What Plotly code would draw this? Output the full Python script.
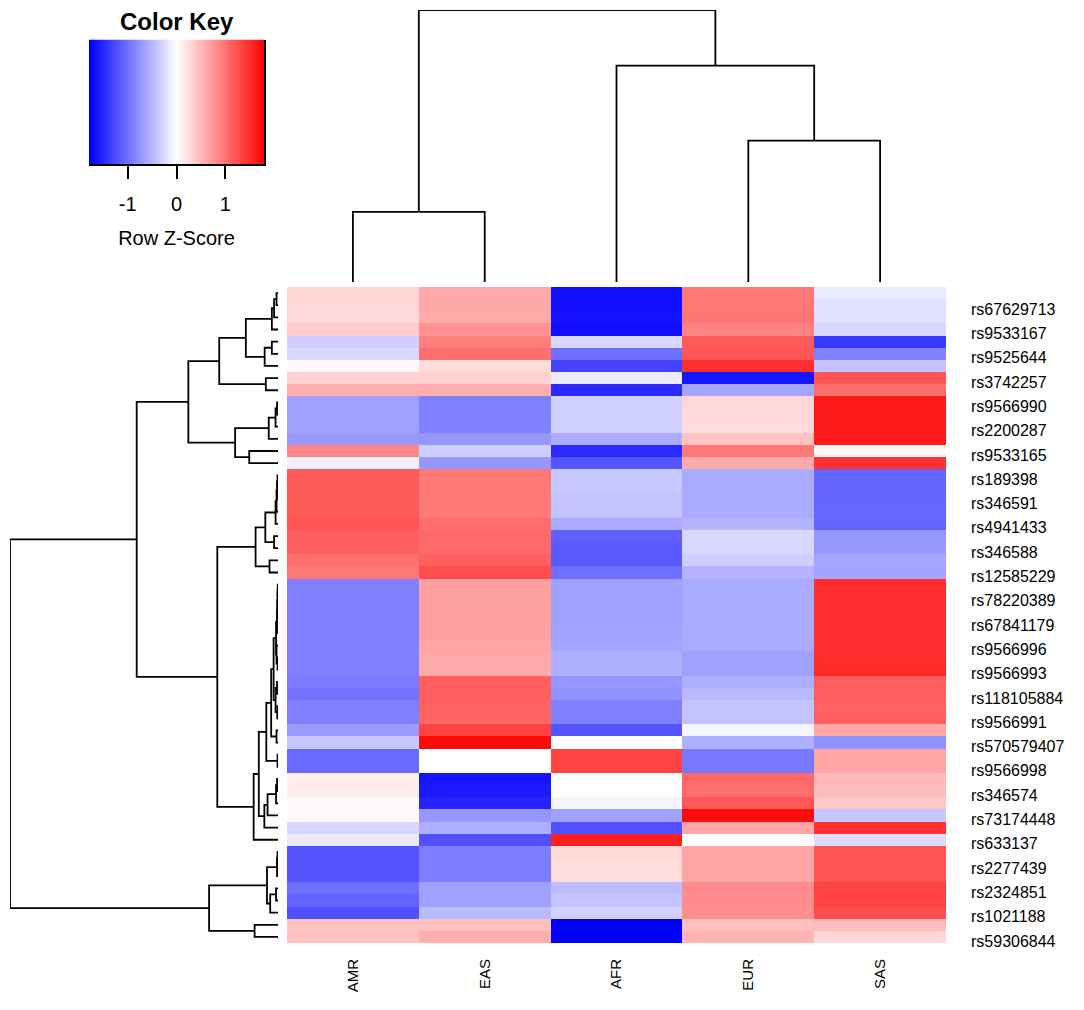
import plotly.graph_objects as go

# column order as shown (already ordered by the column dendrogram)
populations = ["AMR", "EAS", "AFR", "EUR", "SAS"]

# every other row carries a label (rows 1, 3, 5, ... from the top)
row_labels = [
    "rs67629713", "rs9533167", "rs9525644", "rs3742257", "rs9566990",
    "rs2200287", "rs9533165", "rs189398", "rs346591", "rs4941433",
    "rs346588", "rs12585229", "rs78220389", "rs67841179", "rs9566996",
    "rs9566993", "rs118105884", "rs9566991", "rs570579407", "rs9566998",
    "rs346574", "rs73174448", "rs633137", "rs2277439", "rs2324851",
    "rs1021188", "rs59306844",
]

# row z-scores, top row first, columns in population order
zscores = [
    [0.28, 0.60, -1.68, 0.95, -0.14],
    [0.28, 0.62, -1.68, 0.95, -0.21],
    [0.27, 0.60, -1.66, 0.97, -0.21],
    [0.35, 0.77, -1.68, 0.88, -0.28],
    [-0.35, 0.90, -0.28, 1.15, -1.40],
    [-0.28, 1.02, -1.02, 1.19, -0.88],
    [0.04, 0.25, -1.33, 1.47, -0.42],
    [0.32, 0.32, -0.14, -1.65, 1.19],
    [0.56, 0.56, -1.51, -0.63, 1.02],
    [-0.67, -0.89, -0.32, 0.28, 1.61],
    [-0.67, -0.89, -0.32, 0.27, 1.61],
    [-0.67, -0.88, -0.32, 0.25, 1.61],
    [-0.72, -0.74, -0.58, 0.42, 1.61],
    [0.85, -0.35, -1.51, 0.95, 0.07],
    [-0.11, -0.74, -1.19, 0.60, 1.44],
    [1.16, 0.95, -0.39, -0.60, -1.09],
    [1.16, 0.95, -0.39, -0.60, -1.09],
    [1.16, 0.95, -0.42, -0.60, -1.09],
    [1.16, 0.93, -0.42, -0.60, -1.07],
    [1.20, 1.02, -0.60, -0.53, -1.09],
    [1.12, 1.05, -1.12, -0.28, -0.74],
    [1.12, 1.05, -1.16, -0.28, -0.74],
    [1.02, 1.12, -1.16, -0.35, -0.63],
    [0.95, 1.25, -1.02, -0.53, -0.65],
    [-0.89, 0.67, -0.67, -0.60, 1.47],
    [-0.89, 0.67, -0.67, -0.60, 1.47],
    [-0.89, 0.67, -0.67, -0.60, 1.47],
    [-0.89, 0.67, -0.67, -0.60, 1.47],
    [-0.89, 0.67, -0.65, -0.60, 1.47],
    [-0.89, 0.63, -0.63, -0.60, 1.47],
    [-0.89, 0.60, -0.56, -0.67, 1.47],
    [-0.89, 0.60, -0.56, -0.67, 1.50],
    [-0.93, 1.12, -0.74, -0.56, 1.12],
    [-0.98, 1.12, -0.77, -0.49, 1.12],
    [-0.89, 1.10, -0.89, -0.42, 1.10],
    [-0.89, 1.09, -0.89, -0.42, 1.11],
    [-0.70, 1.33, -1.19, -0.07, 0.63],
    [-0.39, 1.72, 0.00, -0.56, -0.77],
    [-1.05, 0.00, 1.33, -0.95, 0.63],
    [-1.05, 0.00, 1.33, -0.95, 0.63],
    [0.12, -1.65, 0.00, 1.05, 0.50],
    [0.14, -1.61, 0.00, 1.02, 0.47],
    [0.04, -1.54, -0.07, 1.18, 0.39],
    [0.04, -0.74, -0.67, 1.72, -0.39],
    [-0.28, -0.56, -1.23, 0.63, 1.44],
    [-0.14, -1.23, 1.58, 0.00, -0.25],
    [-1.19, -0.91, 0.28, 0.63, 1.19],
    [-1.19, -0.91, 0.25, 0.63, 1.19],
    [-1.19, -0.91, 0.25, 0.63, 1.19],
    [-1.02, -0.67, -0.46, 0.81, 1.33],
    [-1.09, -0.67, -0.42, 0.81, 1.33],
    [-1.23, -0.49, -0.32, 0.79, 1.25],
    [0.44, 0.44, -1.79, 0.44, 0.47],
    [0.42, 0.57, -1.79, 0.53, 0.27],
]

# dendrogram merges: (node, left, right, height); ints are leaves
col_merges = [
    ("c01", 0, 1, 0.72),
    ("c34", 3, 4, 1.45),
    ("c234", 2, "c34", 2.22),
    ("croot", "c01", "c234", 2.79),
]

row_merges = [
    ("r0_1", 0, 1, 0.015), ("r0_2", "r0_1", 2, 0.04), ("r0_3", "r0_2", 3, 0.063),
    ("r4_5", 4, 5, 0.063), ("r4_6", "r4_5", 6, 0.137),
    ("G", "r0_3", "r4_6", 0.33),
    ("r7_8", 7, 8, 0.125),
    ("E", "G", "r7_8", 0.603),
    ("r9_10", 9, 10, 0.01), ("r9_11", "r9_10", 11, 0.025), ("K", "r9_11", 12, 0.095),
    ("r13_14", 13, 14, 0.295),
    ("F", "K", "r13_14", 0.44),
    ("B", "E", "F", 0.92),
    ("r15_16", 15, 16, 0.005), ("r15_17", "r15_16", 17, 0.01),
    ("r15_18", "r15_17", 18, 0.015), ("r15_19", "r15_18", 19, 0.025),
    ("r20_21", 20, 21, 0.04),
    ("N", "r15_19", "r20_21", 0.13),
    ("r22_23", 22, 23, 0.087),
    ("M", "N", "r22_23", 0.23),
    ("r24_25", 24, 25, 0.003), ("r24_26", "r24_25", 26, 0.005),
    ("r24_27", "r24_26", 27, 0.007), ("r24_28", "r24_27", 28, 0.01),
    ("r30_31", 30, 31, 0.005), ("r29_31", 29, "r30_31", 0.015),
    ("r24_31", "r24_28", "r29_31", 0.02),
    ("r32_33", 32, 33, 0.01), ("r34_35", 34, 35, 0.008),
    ("r32_35", "r32_33", "r34_35", 0.025),
    ("r24_35", "r24_31", "r32_35", 0.045),
    ("r36_37", 36, 37, 0.015),
    ("U", "r24_35", "r36_37", 0.07),
    ("r38_39", 38, 39, 0.005),
    ("T", "U", "r38_39", 0.12),
    ("r40_41", 40, 41, 0.01), ("r40_42", "r40_41", 42, 0.02),
    ("r40_43", "r40_42", 43, 0.107), ("Q", "r40_43", 44, 0.14),
    ("P", "T", "Q", 0.197),
    ("O", "P", 45, 0.25),
    ("C", "M", "O", 0.623),
    ("A", "B", "C", 1.45),
    ("r46_47", 46, 47, 0.005), ("r46_48", "r46_47", 48, 0.01),
    ("r49_50", 49, 50, 0.02), ("r49_51", "r49_50", 51, 0.08),
    ("V", "r46_48", "r49_51", 0.113),
    ("r52_53", 52, 53, 0.24),
    ("D", "V", "r52_53", 0.707),
    ("root", "A", "D", 2.75),
]

# colour key range and tick values
zlim = 1.79
key_ticks = [-1, 0, 1]
key_ticktext = ["-1", "0", "1"]


def dendro_segments(merges):
    pos, hgt = {}, {}
    p_out, h_out = [], []
    for name, a, b, h in merges:
        for k in (a, b):
            if isinstance(k, int):
                pos[k], hgt[k] = k, 0.0
        p_out += [pos[a], pos[a], pos[b], pos[b], None]
        h_out += [hgt[a], h, h, hgt[b], None]
        pos[name] = (pos[a] + pos[b]) / 2
        hgt[name] = h
    return p_out, h_out


W, H = 1084, 1010
OFF = 8  # default body margin of the html page
FONT = "Liberation Sans, Arial, sans-serif"
COLORS = [[0, "rgb(0,0,255)"], [0.5, "rgb(255,255,255)"], [1, "rgb(255,0,0)"]]


def px(x):
    return min(max((x - OFF) / W, 0.0), 1.0)


def py(y):
    return min(max(1 - (y - OFF) / H, 0.0), 1.0)


n_rows = len(zscores)
n_cols = len(populations)
row_h_max = max(m[3] for m in row_merges)
col_h_max = max(m[3] for m in col_merges)

fig = go.Figure()

fig.add_trace(go.Heatmap(
    z=zscores,
    x=list(range(n_cols)),
    y=list(range(n_rows)),
    zmin=-zlim, zmax=zlim,
    colorscale=COLORS, showscale=False,
    hovertemplate="%{z:.2f}<extra></extra>",
))

# row dendrogram (left)
rp, rh = dendro_segments(row_merges)
fig.add_trace(go.Scatter(x=rh, y=rp, xaxis="x2", yaxis="y", mode="lines",
                         line=dict(color="black", width=1.8), hoverinfo="skip",
                         cliponaxis=False))

# column dendrogram (top)
cp, ch = dendro_segments(col_merges)
fig.add_trace(go.Scatter(x=cp, y=ch, xaxis="x", yaxis="y2", mode="lines",
                         line=dict(color="black", width=1.8), hoverinfo="skip",
                         cliponaxis=False))

# colour key: the scale end values, smoothed between
fig.add_trace(go.Heatmap(
    z=[[-zlim, zlim], [-zlim, zlim]], x=[-zlim, zlim], y=[0, 1],
    xaxis="x3", yaxis="y3", zsmooth="best",
    zmin=-zlim, zmax=zlim, colorscale=COLORS, showscale=False,
    hoverinfo="skip",
))

fig.update_layout(
    width=W, height=H,
    margin=dict(l=0, r=0, t=0, b=0, autoexpand=False),
    paper_bgcolor="white", plot_bgcolor="white",
    showlegend=False,
    font=dict(family=FONT, color="black"),
    xaxis=dict(
        domain=[px(287), px(946)], range=[-0.5, n_cols - 0.5],
        tickvals=list(range(n_cols)), ticktext=populations,
        tickangle=-90, tickfont=dict(size=15),
        ticks="", ticklabelstandoff=12, automargin=False,
        showgrid=False, zeroline=False, showline=False,
    ),
    yaxis=dict(
        domain=[py(943), py(287)], range=[n_rows - 0.5, -0.5],
        side="right",
        tickvals=[2 * k + 1 for k in range(len(row_labels))], ticktext=row_labels,
        tickfont=dict(size=16),
        ticks="", ticklabelstandoff=24, ticklabelshift=-4, automargin=False,
        showgrid=False, zeroline=False, showline=False,
    ),
    xaxis2=dict(
        domain=[px(10), px(278)], range=[row_h_max, 0], anchor="y",
        visible=False, automargin=False,
    ),
    yaxis2=dict(
        domain=[py(282), py(10)], range=[0, col_h_max], anchor="x",
        visible=False, automargin=False,
    ),
    xaxis3=dict(
        domain=[px(89), px(264)], range=[-zlim, zlim], anchor="y3",
        tickvals=key_ticks, ticktext=key_ticktext,
        ticks="outside", ticklen=13, tickwidth=2, tickcolor="black",
        tickfont=dict(size=20), ticklabelstandoff=8, automargin=False,
        showline=True, linecolor="black", linewidth=1.5,
        showgrid=False, zeroline=False,
        title=dict(text="Row Z-Score", font=dict(size=20), standoff=17),
    ),
    yaxis3=dict(
        domain=[py(164), py(39.5)], range=[0, 1], anchor="x3", side="right",
        showticklabels=False, ticks="", automargin=False,
        showline=True, linecolor="black", linewidth=1.5,
        showgrid=False, zeroline=False,
    ),
    annotations=[dict(
        text="<b>Color Key</b>", x=px(177), y=py(21),
        xref="paper", yref="paper", xanchor="center", yanchor="middle",
        showarrow=False, font=dict(size=24, color="black", family=FONT),
    )],
)

fig.write_html("out.html")
